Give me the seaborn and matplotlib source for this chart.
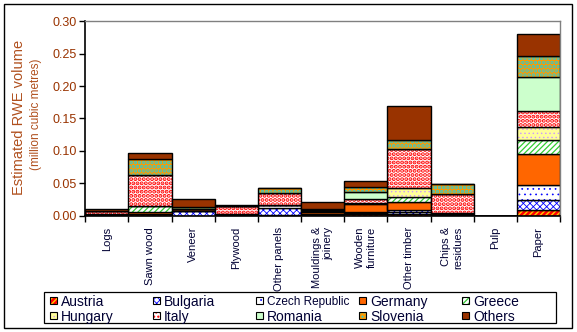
import numpy as np
import pandas as pd
import matplotlib
matplotlib.use("Agg")
import matplotlib.pyplot as plt
from matplotlib.patches import Rectangle
from matplotlib.ticker import FixedLocator, FormatStrFormatter
import seaborn as sns

# Wood product categories (x axis)
products = ["Logs", "Sawn wood", "Veneer", "Plywood", "Other panels",
            "Mouldings &\njoinery", "Wooden\nfurniture", "Other timber",
            "Chips &\nresidues", "Pulp", "Paper"]

# Estimated RWE volume by source country (million cubic metres)
austria  = [0.001, 0.002, 0.000, 0.001, 0.001, 0.001, 0.002, 0.003, 0.001, 0.0, 0.0093]
bulgaria = [0.000, 0.000, 0.007, 0.001, 0.011, 0.001, 0.002, 0.003, 0.001, 0.0, 0.0154]
czech    = [0.000, 0.001, 0.001, 0.000, 0.004, 0.000, 0.002, 0.003, 0.000, 0.0, 0.0221]
germany  = [0.001, 0.003, 0.002, 0.001, 0.001, 0.004, 0.012, 0.012, 0.002, 0.0, 0.0490]
greece   = [0.000, 0.009, 0.000, 0.000, 0.000, 0.001, 0.001, 0.008, 0.000, 0.0, 0.0216]
hungary  = [0.000, 0.000, 0.000, 0.000, 0.000, 0.000, 0.001, 0.0145, 0.000, 0.0, 0.0195]
italy    = [0.005, 0.048, 0.001, 0.012, 0.018, 0.002, 0.006, 0.059, 0.029, 0.0, 0.0242]
romania  = [0.000, 0.000, 0.000, 0.000, 0.000, 0.000, 0.011, 0.000, 0.000, 0.0, 0.0530]
slovenia = [0.000, 0.025, 0.002, 0.000, 0.007, 0.002, 0.007, 0.014, 0.016, 0.0, 0.0320]
others   = [0.003, 0.008, 0.013, 0.002, 0.001, 0.010, 0.010, 0.053, 0.000, 0.0, 0.0350]

countries = ["Austria", "Bulgaria", "Czech Republic", "Germany", "Greece",
             "Hungary", "Italy", "Romania", "Slovenia", "Others"]
series = [austria, bulgaria, czech, germany, greece,
          hungary, italy, romania, slovenia, others]

# fill colour, hatch pattern, hatch colour, hatch line width
styles = {
    "Austria":        ("#FF0000", "//////", "#FFCC00", 1.0),
    "Bulgaria":       ("#FFFFFF", "xxxxx",  "#0000FF", 0.6),
    "Czech Republic": ("#FFFFFF", "...",    "#0000FF", 0.5),
    "Germany":        ("#FF6600", None,     "#FF6600", 0.0),
    "Greece":         ("#FFFFFF", "//////", "#33CC33", 0.9),
    "Hungary":        ("#FFFF99", "....",   "#CC99FF", 0.5),
    "Italy":          ("#FFFFFF", "....",   "#FF0000", 2.0),
    "Romania":        ("#CCFFCC", None,     "#CCFFCC", 0.0),
    "Slovenia":       ("#FF9900", "....",   "#33CCCC", 1.8),
    "Others":         ("#993300", None,     "#993300", 0.0),
}

sns.set_theme(style="white")
plt.rcParams["font.family"] = ["Liberation Sans", "DejaVu Sans"]

W, H = 577, 332
fig = plt.figure(figsize=(W / 100, H / 100), dpi=100)
ax = fig.add_axes([85.3 / W, 1 - 215.7 / H, (560 - 85.3) / W, (215.7 - 21.3) / H])

base = np.zeros(len(products))
for name, vals in zip(countries, series):
    fc, hatch, hc, hlw = styles[name]
    df = pd.DataFrame({"product": products, "value": vals})
    n_before = len(ax.patches)
    # filled segment with coloured hatching
    sns.barplot(data=df, x="product", y="value", ax=ax, bottom=base.copy(),
                width=1.0, saturation=1, errorbar=None, color=fc,
                edgecolor=hc, linewidth=0, hatch=hatch)
    for p in ax.patches[n_before:]:
        if hasattr(p, "set_hatch_linewidth"):
            p.set_hatch_linewidth(hlw)
    # black outline around the segment
    sns.barplot(data=df, x="product", y="value", ax=ax, bottom=base.copy(),
                width=1.0, saturation=1, errorbar=None, fill=False,
                color="black", edgecolor="black", linewidth=1.0)
    base = base + np.asarray(vals)

# axes styling
ax.set_xlim(-0.5, len(products) - 0.5)
ax.set_ylim(0, 0.30)
ax.set_xlabel("")
ax.set_ylabel("")
ax.set_yticks(np.arange(0, 0.301, 0.05))
ax.yaxis.set_major_formatter(FormatStrFormatter("%.2f"))
ax.tick_params(axis="y", which="major", left=True, length=4, width=1,
               color="black", labelsize=9, labelcolor="#993300", pad=2)
ax.set_xticks(range(len(products)))
ax.set_xticklabels(products, rotation=90, fontsize=8, color="#000033",
                   va="top", ha="center", multialignment="right")
ax.tick_params(axis="x", which="major", bottom=True, length=0, pad=8)
ax.xaxis.set_minor_locator(FixedLocator(np.arange(-0.5, len(products), 1.0)))
ax.tick_params(axis="x", which="minor", bottom=True, length=4, width=1, color="black")
for side in ("left", "bottom"):
    ax.spines[side].set_color("black")
    ax.spines[side].set_linewidth(1.2)
for side in ("top", "right"):
    ax.spines[side].set_color("#808080")
    ax.spines[side].set_linewidth(1.0)
ax.grid(False)
ax.set_facecolor("white")

# two-line y-axis title
fig.text(19.5 / W, 1 - 117 / H, "Estimated RWE volume", rotation=90,
         ha="center", va="center", fontsize=10.5, color="#B0501E")
fig.text(36.5 / W, 1 - 114 / H, "(million cubic metres)", rotation=90,
         ha="center", va="center", fontsize=8.5, color="#B0501E")

# legend box: 2 rows x 5 columns, filled row by row
fig.add_artist(Rectangle((44 / W, 1 - 323 / H), 512 / W, 31 / H, transform=fig.transFigure,
                         facecolor="white", edgecolor="black", linewidth=0.9))
col_x = [49.5, 152.5, 255.5, 358.5, 461.5]
row_y = [300.5, 315.5]
for i, name in enumerate(countries):
    fc, hatch, hc, hlw = styles[name]
    x0 = col_x[i % 5]
    yc = row_y[i // 5]
    sw = fig.add_artist(Rectangle((x0 / W, 1 - (yc + 3.5) / H), 7 / W, 7 / H,
                                  transform=fig.transFigure, facecolor=fc,
                                  edgecolor=hc, hatch=hatch, linewidth=0))
    if hasattr(sw, "set_hatch_linewidth"):
        sw.set_hatch_linewidth(min(hlw, 1.0))
    fig.add_artist(Rectangle((x0 / W, 1 - (yc + 3.5) / H), 7 / W, 7 / H,
                             transform=fig.transFigure, fill=False,
                             edgecolor="black", linewidth=0.8))
    fs = 8.5 if name == "Czech Republic" else 10
    fig.text((x0 + 11.5) / W, 1 - yc / H, name, ha="left", va="center_baseline",
             fontsize=fs, color="#000033")

# outer frame of the chart
fig.add_artist(Rectangle((4 / W, 4 / H), 568 / W, 324 / H, transform=fig.transFigure,
                         fill=False, edgecolor="black", linewidth=1.0))

fig.savefig("out.png", dpi=100, facecolor="white")
